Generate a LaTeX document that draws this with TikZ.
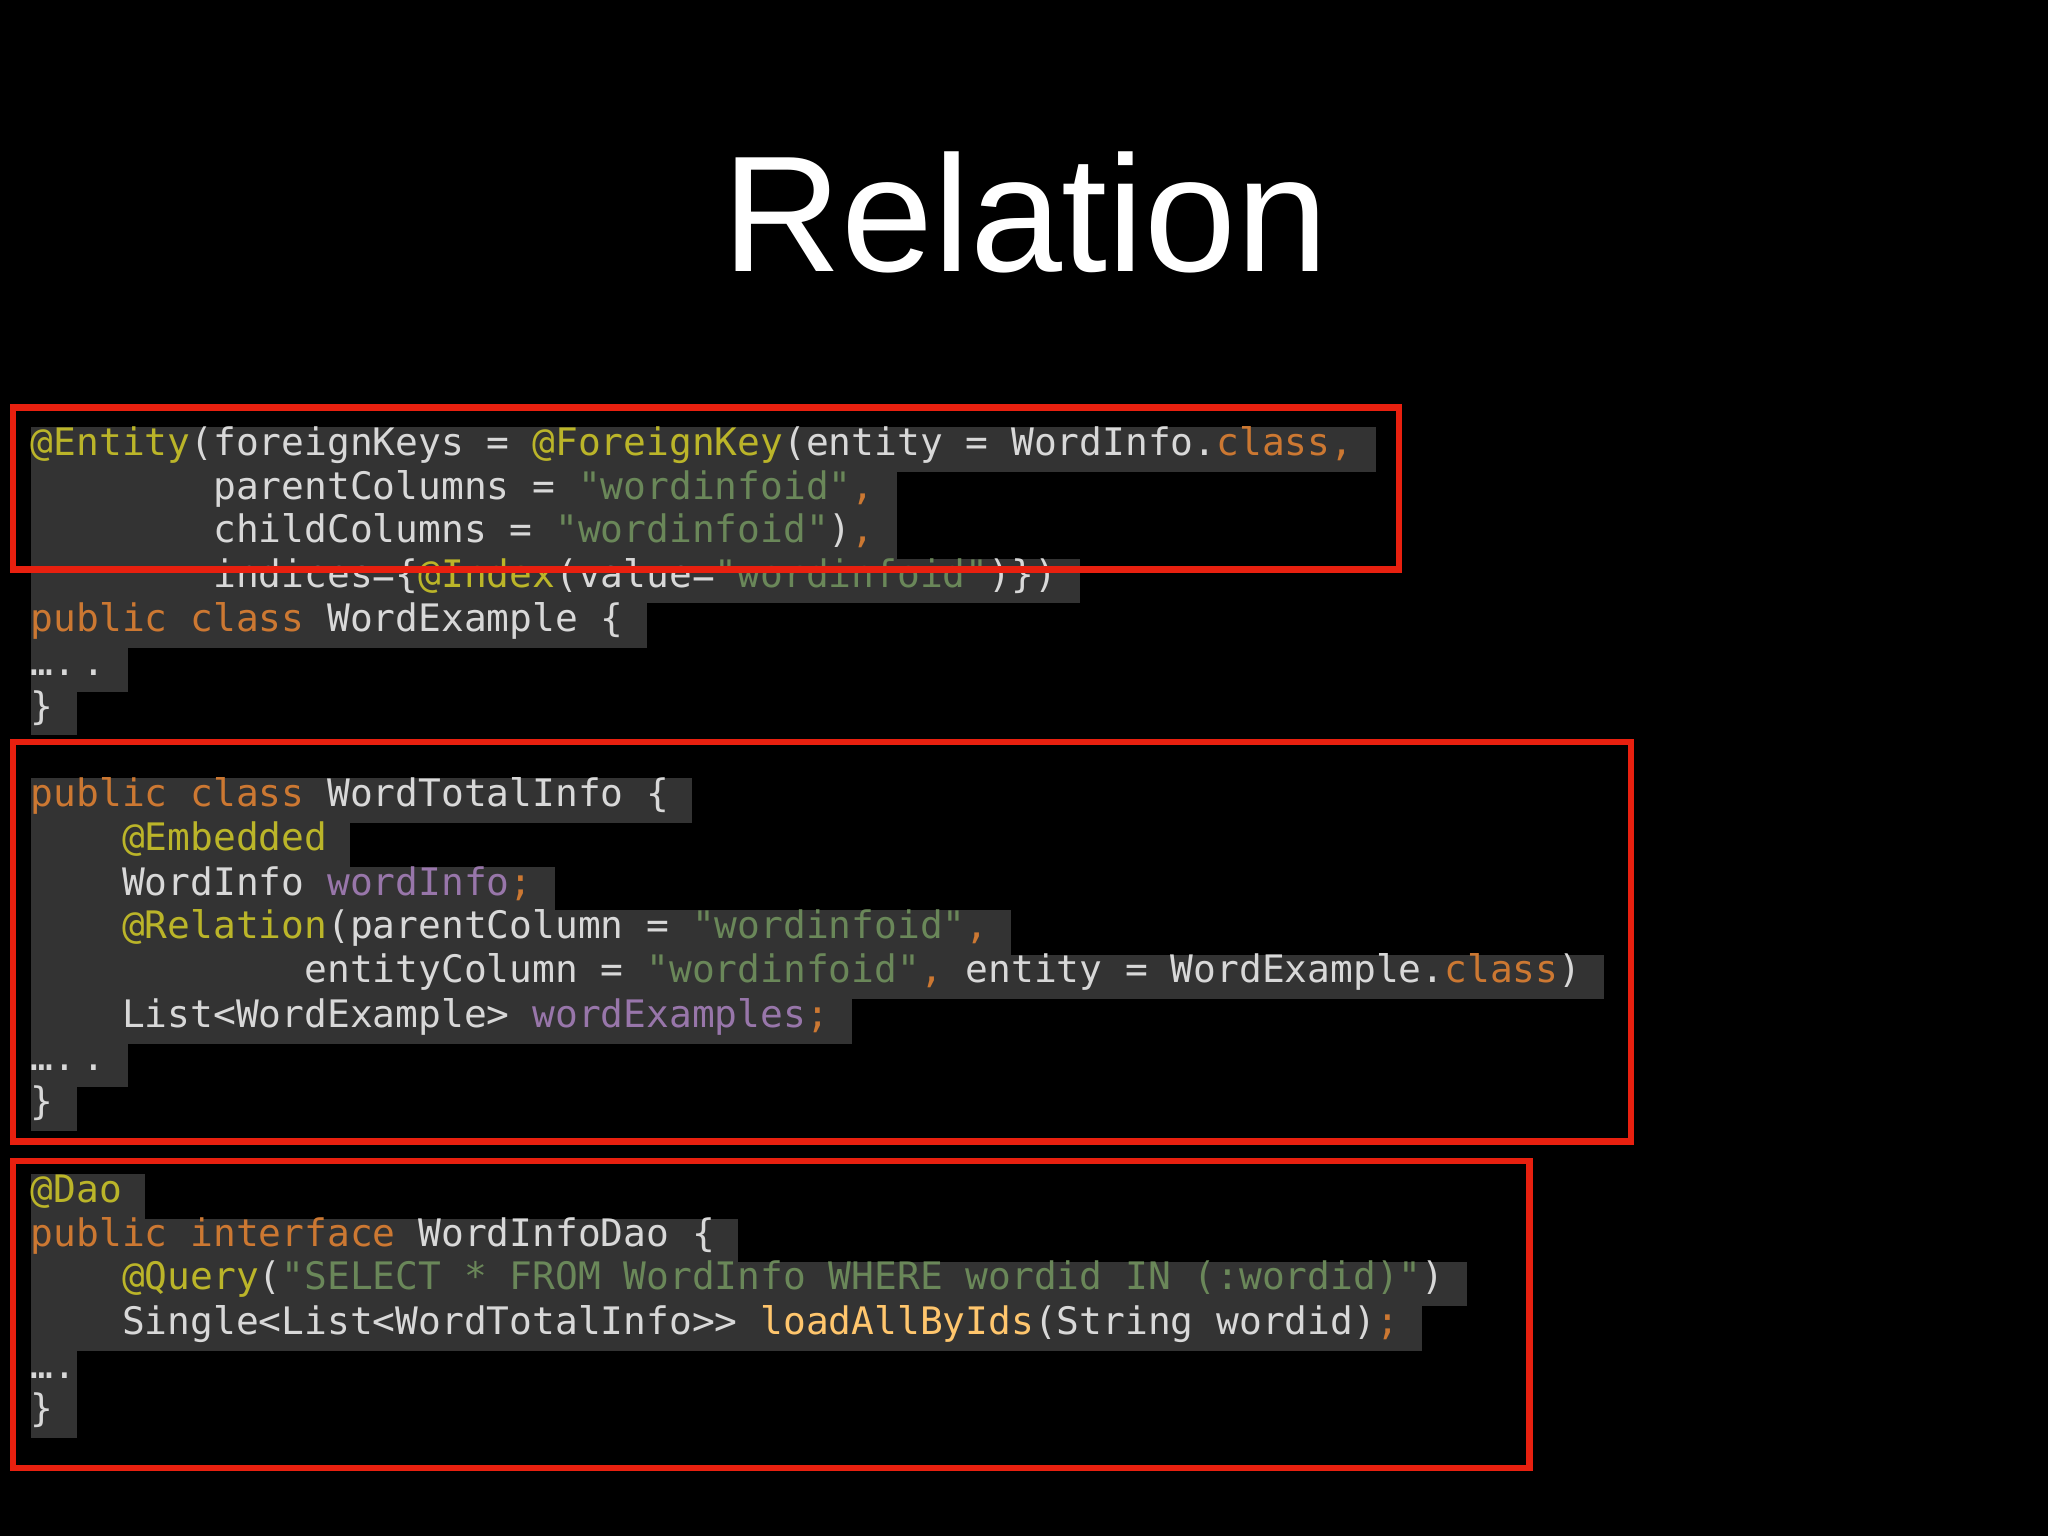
\documentclass[tikz,border=0pt]{standalone}
\usepackage{fontspec}
\setmainfont{Liberation Sans}
\newfontfamily\codefont{DejaVu Sans Mono}
\definecolor{cbg}{HTML}{333333}
\definecolor{ctx}{HTML}{D8D8D8}
\definecolor{ckw}{HTML}{CC7832}
\definecolor{can}{HTML}{BBB529}
\definecolor{cst}{HTML}{6A8759}
\definecolor{cfd}{HTML}{9876AA}
\definecolor{cmt}{HTML}{FFC66D}
\definecolor{cred}{HTML}{E8200F}
\newcommand\K[1]{\textcolor{ckw}{#1}}
\newcommand\A[1]{\textcolor{can}{#1}}
\newcommand\Sg[1]{\textcolor{cst}{#1}}
\newcommand\F[1]{\textcolor{cfd}{#1}}
\newcommand\M[1]{\textcolor{cmt}{#1}}
\newcommand\ind[1]{\phantom{#1}}
\tikzset{
 codeline/.style={anchor=west, fill=cbg, text=ctx, inner sep=0pt, minimum height=0.34cm,
   text height=0.215cm, text depth=0.125cm, font=\codefont\fontsize{8.25pt}{9pt}\selectfont},
 redbox/.style={draw=cred, line width=1.35pt}
}
\begin{document}
\begin{tikzpicture}
\fill[black] (0,0) rectangle (15.68,-11.76);
\useasboundingbox (0,0) rectangle (15.68,-11.76);
\node[text=white, font=\fontsize{36pt}{40pt}\selectfont] (title) at (7.85,-1.63) {Relation};
% block 1
\node[codeline] (l1) at (0.23,-3.44) {\A{@Entity}(foreignKeys = \A{@ForeignKey}(entity = WordInfo.\K{class,}\ind{x}};
\node[codeline] (l2) at (0.23,-3.78) {\ind{xxxxxxxx}parentColumns = \Sg{"wordinfoid"}\K{,}\ind{x}};
\node[codeline] (l3) at (0.23,-4.11) {\ind{xxxxxxxx}childColumns = \Sg{"wordinfoid"})\K{,}\ind{x}};
\node[codeline] (l4) at (0.23,-4.45) {\ind{xxxxxxxx}indices=\{\A{@Index}(value=\Sg{"wordinfoid"})\})\ind{x}};
\node[codeline] (l5) at (0.23,-4.79) {\K{public class} WordExample \{\ind{x}};
\node[codeline] (l6) at (0.23,-5.13) {….\,.\ind{x}};
\node[codeline] (l7) at (0.23,-5.46) {\}\ind{x}};
% block 2
\node[codeline] (m1) at (0.23,-6.13) {\K{public class} WordTotalInfo \{\ind{x}};
\node[codeline] (m2) at (0.23,-6.47) {\ind{xxxx}\A{@Embedded}\ind{x}};
\node[codeline] (m3) at (0.23,-6.81) {\ind{xxxx}WordInfo \F{wordInfo}\K{;}\ind{x}};
\node[codeline] (m4) at (0.23,-7.14) {\ind{xxxx}\A{@Relation}(parentColumn = \Sg{"wordinfoid"}\K{,}\ind{x}};
\node[codeline] (m5) at (0.23,-7.48) {\ind{xxxxxxxxxxxx}entityColumn = \Sg{"wordinfoid"}\K{,} entity = WordExample.\K{class})\ind{x}};
\node[codeline] (m6) at (0.23,-7.82) {\ind{xxxx}List<WordExample> \F{wordExamples}\K{;}\ind{x}};
\node[codeline] (m7) at (0.23,-8.15) {….\,.\ind{x}};
\node[codeline] (m8) at (0.23,-8.49) {\}\ind{x}};
% block 3
\node[codeline] (n1) at (0.23,-9.16) {\A{@Dao}\ind{x}};
\node[codeline] (n2) at (0.23,-9.50) {\K{public interface} WordInfoDao \{\ind{x}};
\node[codeline] (n3) at (0.23,-9.83) {\ind{xxxx}\A{@Query}(\Sg{"SELECT * FROM WordInfo WHERE wordid IN (:wordid)"})\ind{x}};
\node[codeline] (n4) at (0.23,-10.17) {\ind{xxxx}Single<List<WordTotalInfo>> \M{loadAllByIds}(String wordid)\K{;}\ind{x}};
\node[codeline] (n5) at (0.23,-10.51) {….\ind{}};
\node[codeline] (n6) at (0.23,-10.84) {\}\ind{x}};
% red frames
\draw[redbox] (0.10,-3.12) rectangle (10.71,-4.36);
\draw[redbox] (0.10,-5.68) rectangle (12.49,-8.74);
\draw[redbox] (0.10,-8.89) rectangle (11.71,-11.24);
\end{tikzpicture}
\end{document}
